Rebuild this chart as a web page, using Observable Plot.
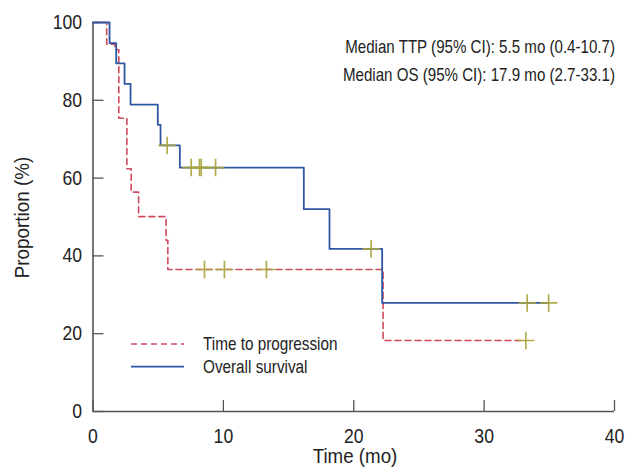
<!DOCTYPE html>
<html>
<head>
<meta charset="utf-8">
<script src="https://cdn.jsdelivr.net/npm/d3@7"></script>
<script src="https://cdn.jsdelivr.net/npm/@observablehq/plot@0.6"></script>
<style>
  html, body { margin: 0; padding: 0; background: #fff; }
  svg { font-family: "Liberation Sans", Arial, sans-serif; }
</style>
</head>
<body>
<div id="chart"></div>
<script>
// Overall survival (step-after: time, proportion after the step)
const osTime  = [0, 1.27, 1.78, 2.42, 2.88, 4.97, 5.18, 6.66, 16.17, 18.14, 22.18, 34.95];
const osValue = [100, 94.7, 89.5, 84.2, 78.9, 73.7, 68.4, 62.7, 52.0, 41.8, 27.9, 27.9];
// Overall survival censored observations
const osCensorTime  = [5.69, 7.53, 8.17, 8.30, 9.40, 21.33, 33.30, 34.95];
const osCensorValue = [68.4, 62.7, 62.7, 62.7, 62.7, 41.8, 27.9, 27.9];

// Time to progression
const ttpTime  = [0, 1.05, 1.68, 1.98, 2.60, 2.93, 3.50, 5.60, 5.74, 22.25, 33.2];
const ttpValue = [100, 94.4, 93.0, 75.4, 62.4, 56.4, 50.1, 44.0, 36.5, 18.25, 18.25];
// Time to progression censored observations
const ttpCensorTime  = [8.55, 10.08, 13.30, 33.2];
const ttpCensorValue = [36.5, 36.5, 36.5, 18.25];

const xTicks = [0, 10, 20, 30, 40];
const yTicks = [0, 20, 40, 60, 80, 100];

const seriesNames = ["Time to progression", "Overall survival"];
const notes = [
  "Median TTP (95% CI): 5.5 mo (0.4-10.7)",
  "Median OS (95% CI): 17.9 mo (2.7-33.1)"
];

const osData = osTime.map((t, i) => ({t, v: osValue[i]}));
const ttpData = ttpTime.map((t, i) => ({t, v: ttpValue[i]}));
const osCens = osCensorTime.map((t, i) => ({t, v: osCensorValue[i]}));
const ttpCens = ttpCensorTime.map((t, i) => ({t, v: ttpCensorValue[i]}));

const blue = "#2f56a0";
const red = "#d04a5c";
const olive = "#a9a33a";
const ink = "#222";

const chart = Plot.plot({
  width: 640,
  height: 469,
  marginLeft: 92.5,
  marginRight: 26,
  marginTop: 22,
  marginBottom: 58,
  style: {fontSize: "20px", color: ink, background: "#fff"},
  x: {domain: [0, 40], ticks: xTicks, label: null},
  y: {domain: [0, 100], ticks: yTicks, label: null},
  marks: [
    Plot.axisX({ticks: xTicks, tickSize: -11, tickPadding: 28, stroke: "#555", strokeWidth: 1.3, label: null, fontSize: 20}),
    Plot.axisY({ticks: yTicks, tickSize: -11, tickPadding: 22, stroke: "#555", strokeWidth: 1.3, label: null, fontSize: 20}),
    Plot.ruleX([0], {stroke: "#555", strokeWidth: 1.6}),
    Plot.ruleY([0], {stroke: "#555", strokeWidth: 1.6}),
    Plot.lineY(ttpData, {x: "t", y: "v", curve: "step-after", stroke: red, strokeWidth: 1.6, strokeDasharray: "6,4"}),
    Plot.lineY(osData, {x: "t", y: "v", curve: "step-after", stroke: blue, strokeWidth: 1.8}),
    Plot.dot(osCens, {x: "t", y: "v", symbol: "plus", r: 5.7, stroke: olive, strokeWidth: 1.7, strokeOpacity: 0.9}),
    Plot.dot(ttpCens, {x: "t", y: "v", symbol: "plus", r: 5.7, stroke: olive, strokeWidth: 1.7, strokeOpacity: 0.9})
  ]
});

document.getElementById("chart").appendChild(chart);

const svg = d3.select(chart);

// condense axis tick labels horizontally (narrow typeface look)
svg.selectAll('g[aria-label="x-axis tick label"] text, g[aria-label="y-axis tick label"] text').each(function () {
  const t = this.getAttribute("transform") || "";
  this.setAttribute("transform", t + " scale(0.88,1)");
});

function addText(x, y, str, size, anchor, k, rotate) {
  svg.append("text")
    .attr("transform", `translate(${x},${y})${rotate ? ` rotate(${rotate})` : ""} scale(${k},1)`)
    .attr("text-anchor", anchor)
    .attr("font-size", size)
    .attr("fill", ink)
    .text(str);
}

// axis titles
addText(355, 463, "Time (mo)", 19.5, "middle", 0.96);
addText(29, 217.5, "Proportion (%)", 20.5, "middle", 0.92, -90);

// notes
notes.forEach((s, i) => addText(615, 53 + i * 28, s, 18, "end", 0.84));

// legend
const legendStyles = [
  {stroke: red, dash: "6,4", w: 1.6},
  {stroke: blue, dash: null, w: 1.8}
];
seriesNames.forEach((name, i) => {
  const y = 344 + i * 22.7;
  const l = svg.append("line").attr("x1", 131).attr("x2", 184).attr("y1", y).attr("y2", y)
    .attr("stroke", legendStyles[i].stroke).attr("stroke-width", legendStyles[i].w);
  if (legendStyles[i].dash) l.attr("stroke-dasharray", legendStyles[i].dash);
  addText(203, y + 5.8, name, 18, "start", 0.85);
});
</script>
</body>
</html>
